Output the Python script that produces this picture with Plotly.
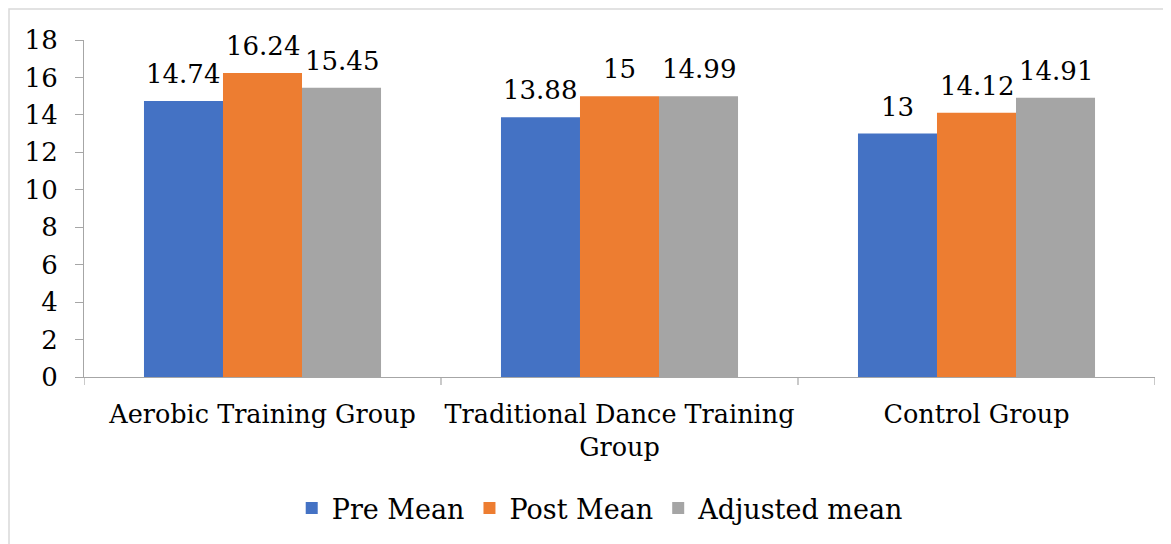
import plotly.graph_objects as go

categories = ["Aerobic Training Group", "Traditional Dance Training<br>Group", "Control Group"]
pre_mean = [14.74, 13.88, 13.0]
post_mean = [16.24, 15.0, 14.12]
adjusted_mean = [15.45, 14.99, 14.91]
pre_labels = ["14.74", "13.88", "13"]
post_labels = ["16.24", "15", "14.12"]
adj_labels = ["15.45", "14.99", "14.91"]
y_ticks = [0, 2, 4, 6, 8, 10, 12, 14, 16, 18]

FONT = "DejaVu Serif, serif"
fs = 26
xfs = 25.5
BARGAP = 0.336

series = [
    ("Pre Mean", pre_mean, pre_labels, "#4472C4"),
    ("Post Mean", post_mean, post_labels, "#ED7D31"),
    ("Adjusted mean", adjusted_mean, adj_labels, "#A5A5A5"),
]

fig = go.Figure()
annotations = []
n = len(series)
bw = (1 - BARGAP) / n
for k, (name, vals, labels, color) in enumerate(series):
    fig.add_trace(go.Bar(
        x=list(range(len(categories))), y=vals, name=name,
        marker=dict(color=color, line=dict(width=0)),
    ))
    off = (k - (n - 1) / 2) * bw
    for i, (v, lab) in enumerate(zip(vals, labels)):
        annotations.append(dict(x=i + off, y=v, xref="x", yref="y", text=lab,
                                showarrow=False, yanchor="middle", yshift=27,
                                font=dict(family=FONT, size=fs, color="black")))

W, H = 1163, 536
fig.update_layout(
    width=W, height=H,
    margin=dict(l=76, r=16, t=32, b=167, autoexpand=False),
    paper_bgcolor="white", plot_bgcolor="white",
    barmode="group", bargap=BARGAP, bargroupgap=0,
    font=dict(family=FONT, size=fs, color="black"),
    showlegend=True,
    legend=dict(orientation="h", x=0.482, xanchor="center", y=-0.39, yanchor="middle",
                font=dict(family=FONT, size=27), traceorder="normal"),
    annotations=annotations,
    shapes=[dict(type="rect", xref="paper", yref="paper",
                 x0=(1 - 76) / 1071, x1=1.2, y0=-1.0, y1=1 + 31 / 337,
                 line=dict(color="#D9D9D9", width=1.5), layer="below")],
)
fig.update_yaxes(range=[0, 18], tickvals=y_ticks, showgrid=False, showline=True,
                 linecolor="#A6A6A6", linewidth=1.2, ticks="outside", ticklen=8,
                 tickcolor="#A6A6A6", zeroline=False, automargin=False,
                 ticklabelstandoff=12,
                 tickfont=dict(family=FONT, size=fs))
fig.update_xaxes(range=[-0.5, 2.5], tickvals=list(range(len(categories))), ticktext=categories,
                 showgrid=False, showline=True, linecolor="#A6A6A6", linewidth=1.2,
                 ticks="", automargin=False, ticklabelstandoff=14, tickangle=0,
                 tickfont=dict(family=FONT, size=xfs))
# boundary tick marks between categories
for b in [-0.5, 0.5, 1.5, 2.5]:
    fig.add_shape(type="line", xref="x", yref="paper", x0=b, x1=b, y0=0, y1=-8 / 337,
                  line=dict(color="#A6A6A6", width=1.2))

fig.write_html("out.html")
